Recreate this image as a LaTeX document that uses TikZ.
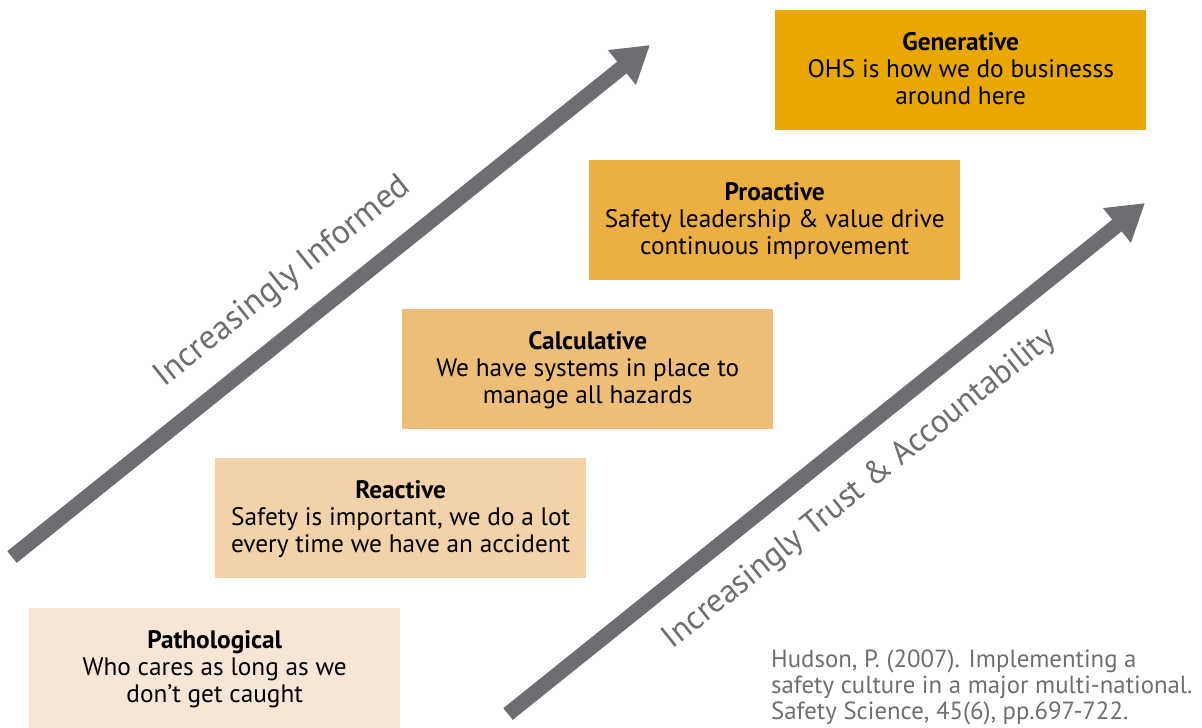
\documentclass[tikz,border=0pt]{standalone}
\usepackage{fontspec}
\setmainfont{PT Sans}
\usetikzlibrary{arrows.meta}
\definecolor{arrowgray}{HTML}{6D6E71}
\definecolor{cGen}{HTML}{E8A800}
\definecolor{cPro}{HTML}{EBAF42}
\definecolor{cCal}{HTML}{EEBE78}
\definecolor{cRea}{HTML}{F2D2A8}
\definecolor{cPat}{HTML}{F6E6D6}
\tikzset{
  stage/.style={anchor=north west, minimum width=371pt, minimum height=120pt,
    inner sep=0pt, text depth=4pt, align=center, text=black,
    font=\fontsize{25.3}{27}\selectfont},
  bigarrow/.style={draw=arrowgray, line width=15pt,
    -{Triangle[length=36pt,width=42pt]}},
  axislabel/.style={text=arrowgray, rotate=38.7, inner sep=0pt},
  cite/.style={anchor=north west, align=left, text=arrowgray, inner sep=0pt,
    font=\fontsize{24.8}{26}\selectfont}
}
\begin{document}
\begin{tikzpicture}[x=1pt,y=-1pt]
\useasboundingbox (0,0) rectangle (1202,728);

% culture maturity stages
\node[stage, fill=cPat] (pat) at (29,608)
  {\textbf{Pathological}\\Who cares as long as we\\don’t get caught};
\node[stage, fill=cRea] (rea) at (215,458)
  {\textbf{Reactive}\\Safety is important, we do a lot\\every time we have an accident};
\node[stage, fill=cCal] (cal) at (402,309)
  {\textbf{Calculative}\\We have systems in place to\\manage all hazards};
\node[stage, fill=cPro] (pro) at (589,160)
  {\textbf{Proactive}\\Safety leadership \& value drive\\continuous improvement};
\node[stage, fill=cGen] (gen) at (775,10)
  {\textbf{Generative}\\OHS is how we do businesss\\around here};

% trend arrows
\coordinate (infoStart) at (12,557);
\coordinate (infoEnd) at (650,45);
\coordinate (trustStart) at (508,714);
\coordinate (trustEnd) at (1145,203);
\draw[bigarrow] (infoStart) -- (infoEnd);
\draw[bigarrow] (trustStart) -- (trustEnd);

\node[axislabel, font=\fontsize{34}{40}\selectfont] (info) at (283,282) {Increasingly Informed};
\node[axislabel, font=\fontsize{33}{40}\selectfont] (trust) at (860,489) {Increasingly Trust \& Accountability};

% reference
\node[cite] (ref) at (771,650)
  {Hudson, P. (2007). Implementing a\\safety culture in a major multi-national.\\Safety Science, 45(6), pp.697-722.};
\end{tikzpicture}
\end{document}
